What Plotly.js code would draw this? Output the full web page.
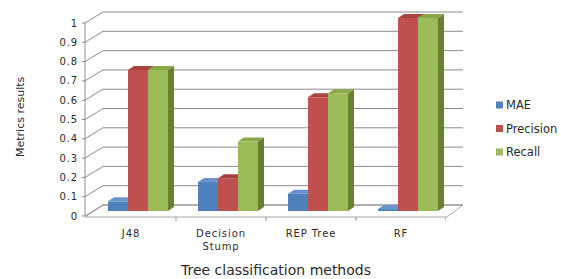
<!DOCTYPE html>
<html>
<head>
<meta charset="utf-8">
<script src="https://cdn.plot.ly/plotly-3.0.1.min.js"></script>
<style>
html,body{margin:0;padding:0;background:#fff;}
#chart{width:561px;height:279px;}
#chart .xtick text, #chart .ytick text {letter-spacing: 0.9px;}
</style>
</head>
<body>
<div id="chart"></div>
<script>
// ---- data ----
const categories = ['J48', 'Decision<br>Stump', 'REP Tree', 'RF'];
const seriesNames = ['MAE', 'Precision', 'Recall'];
const mae = [0.05, 0.15, 0.09, 0.01];
const precision = [0.73, 0.17, 0.59, 1.0];
const recall = [0.73, 0.36, 0.61, 1.0];
const yTickVals = [0, 0.1, 0.2, 0.3, 0.4, 0.5, 0.6, 0.7, 0.8, 0.9, 1];
const yTickText = ['0', '0.1', '0.2', '0.3', '0.4', '0.5', '0.6', '0.7', '0.8', '0.9', '1'];
const xTitle = 'Tree classification methods';
const yTitle = 'Metrics results';

// ---- styles ----
const frontColors = ['#4F81BD', '#C0504D', '#9BBB59'];
const sideColors = ['#2F5788', '#8A3432', '#687F35'];
const topColors = ['#6A95CC', '#A84340', '#88A84A'];
const FONT = 'DejaVu Sans, Verdana, sans-serif';
const TXT = '#2a2a2a';

// layout geometry
const W = 561, H = 279;
const M = {l: 86, r: 115, t: 6, b: 58};
const plotW = W - M.l - M.r;          // 360
const plotH = H - M.t - M.b;          // 215
const plotBottom = H - M.b;           // 221
const pxPerUnitY = 193;
const yRange = [-10 / pxPerUnitY, (plotH - 10) / pxPerUnitY];
const xRange = [-0.5, 3.5];
const pxPerUnitX = plotW / (xRange[1] - xRange[0]);
const barW = 20 / pxPerUnitX;
const groupStart = -23 / pxPerUnitX;
const depthX = 6 / pxPerUnitX;
const depthY = 4 / pxPerUnitY;

const xIdx = categories.map((c, i) => i);
const allSeries = [mae, precision, recall];

const traces = [];
const shapes = [];
const annotations = [];

// paper y of a data value
const yPaper = v => (v - yRange[0]) / (yRange[1] - yRange[0]);
const GRID = '#8c8c8c';

// floor
shapes.push({type: 'path', layer: 'below', xref: 'paper', yref: 'paper',
  xsizemode: 'pixel', xanchor: 0, ysizemode: 'pixel', yanchor: yPaper(0),
  path: 'M -1,-6 L 361,-6 L 377,6 L 17,6 Z',
  fillcolor: '#ffffff', line: {color: '#a8a8a8', width: 1}});

// back wall gridlines and left wall slants
yTickVals.forEach(v => {
  shapes.push({type: 'line', layer: 'below', xref: 'paper', yref: 'paper',
    xsizemode: 'pixel', xanchor: 0, ysizemode: 'pixel', yanchor: yPaper(v),
    x0: 17, x1: 377, y0: 6, y1: 6, line: {color: GRID, width: 1}});
  shapes.push({type: 'line', layer: 'below', xref: 'paper', yref: 'paper',
    xsizemode: 'pixel', xanchor: 0, ysizemode: 'pixel', yanchor: yPaper(v),
    x0: -1, x1: 17, y0: -5, y1: 6, line: {color: GRID, width: 1}});
  shapes.push({type: 'line', layer: 'below', xref: 'paper', yref: 'paper',
    xsizemode: 'pixel', xanchor: 0, ysizemode: 'pixel', yanchor: yPaper(v),
    x0: -4, x1: -1, y0: -5, y1: -5, line: {color: GRID, width: 1}});
});
// front left axis line
shapes.push({type: 'line', layer: 'below', xref: 'paper', yref: 'paper',
  xsizemode: 'pixel', xanchor: 0, ysizemode: 'pixel', yanchor: yPaper(0),
  x0: -1, x1: -1, y0: -5, y1: 188, line: {color: GRID, width: 1}});
// floor tick marks at category boundaries
[0.5, 1.5, 2.5, 3.5].forEach(b => {
  shapes.push({type: 'line', layer: 'below', xref: 'x', yref: 'paper',
    ysizemode: 'pixel', yanchor: yPaper(0),
    x0: b, x1: b, y0: -6, y1: -10, line: {color: GRID, width: 1}});
});

// bars + 3D faces
allSeries.forEach((vals, s) => {
  const off = groupStart + s * barW;
  traces.push({
    type: 'bar', name: seriesNames[s], x: xIdx, y: vals,
    width: barW, offset: off, showlegend: false,
    marker: {color: frontColors[s], line: {width: 0}},
    hoverinfo: 'x+y'
  });
  vals.forEach((v, i) => {
    const x0 = i + off, x1 = x0 + barW;
    shapes.push({type: 'path', layer: 'below', xref: 'x', yref: 'y',
      path: `M ${x1},0 L ${x1 + depthX},${depthY} L ${x1 + depthX},${v + depthY} L ${x1},${v} Z`,
      fillcolor: sideColors[s], line: {width: 0}});
    shapes.push({type: 'path', layer: 'below', xref: 'x', yref: 'y',
      path: `M ${x0},${v} L ${x1},${v} L ${x1 + depthX},${v + depthY} L ${x0 + depthX},${v + depthY} Z`,
      fillcolor: topColors[s], line: {width: 0}});
  });
});

// legend (series key): small square + name
const legendTop = 105, legendStep = 23.5, legendSwatchX = 496 - M.l, legendTextX = 505;
seriesNames.forEach((name, s) => {
  const cy = legendTop + s * legendStep;
  shapes.push({type: 'rect', xref: 'paper', yref: 'paper',
    xsizemode: 'pixel', xanchor: 0, ysizemode: 'pixel', yanchor: 0,
    x0: legendSwatchX, x1: legendSwatchX + 7,
    y0: plotBottom - cy - 3.5, y1: plotBottom - cy + 3.5,
    fillcolor: frontColors[s], line: {width: 0}});
  annotations.push({text: name, xref: 'paper', yref: 'paper',
    x: (legendTextX - M.l) / plotW, y: (plotBottom - cy) / plotH,
    xanchor: 'left', yanchor: 'middle', showarrow: false, borderpad: 0,
    font: {family: FONT, size: 11.5, color: TXT}});
});

annotations.push(
  {text: xTitle, xref: 'paper', yref: 'paper', x: (275 - M.l) / plotW, y: (plotBottom - 270) / plotH,
   xanchor: 'center', yanchor: 'middle', showarrow: false, font: {family: FONT, size: 14, color: TXT}},
  {text: yTitle, xref: 'paper', yref: 'paper', x: (20 - M.l) / plotW, y: (plotBottom - 117) / plotH,
   xanchor: 'center', yanchor: 'middle', textangle: -90, showarrow: false, font: {family: FONT, size: 11, color: TXT}}
);

const layout = {
  width: W, height: H,
  margin: M,
  paper_bgcolor: '#fff', plot_bgcolor: 'rgba(0,0,0,0)',
  barmode: 'overlay',
  showlegend: false,
  font: {family: FONT, size: 10, color: TXT},
  xaxis: {
    range: xRange, tickvals: xIdx, ticktext: categories,
    showgrid: false, zeroline: false, showline: false, ticks: '',
    ticklabelstandoff: 5,
    tickfont: {family: FONT, size: 10, color: TXT}, fixedrange: true
  },
  yaxis: {
    range: yRange, tickvals: yTickVals, ticktext: yTickText,
    showgrid: false, zeroline: false, showline: false, ticks: '',
    ticklabelshift: 5, ticklabelstandoff: 7,
    tickfont: {family: FONT, size: 10, color: TXT}, fixedrange: true
  },
  shapes: shapes,
  annotations: annotations
};

Plotly.newPlot('chart', traces, layout, {displayModeBar: false, staticPlot: true});
</script>
</body>
</html>
